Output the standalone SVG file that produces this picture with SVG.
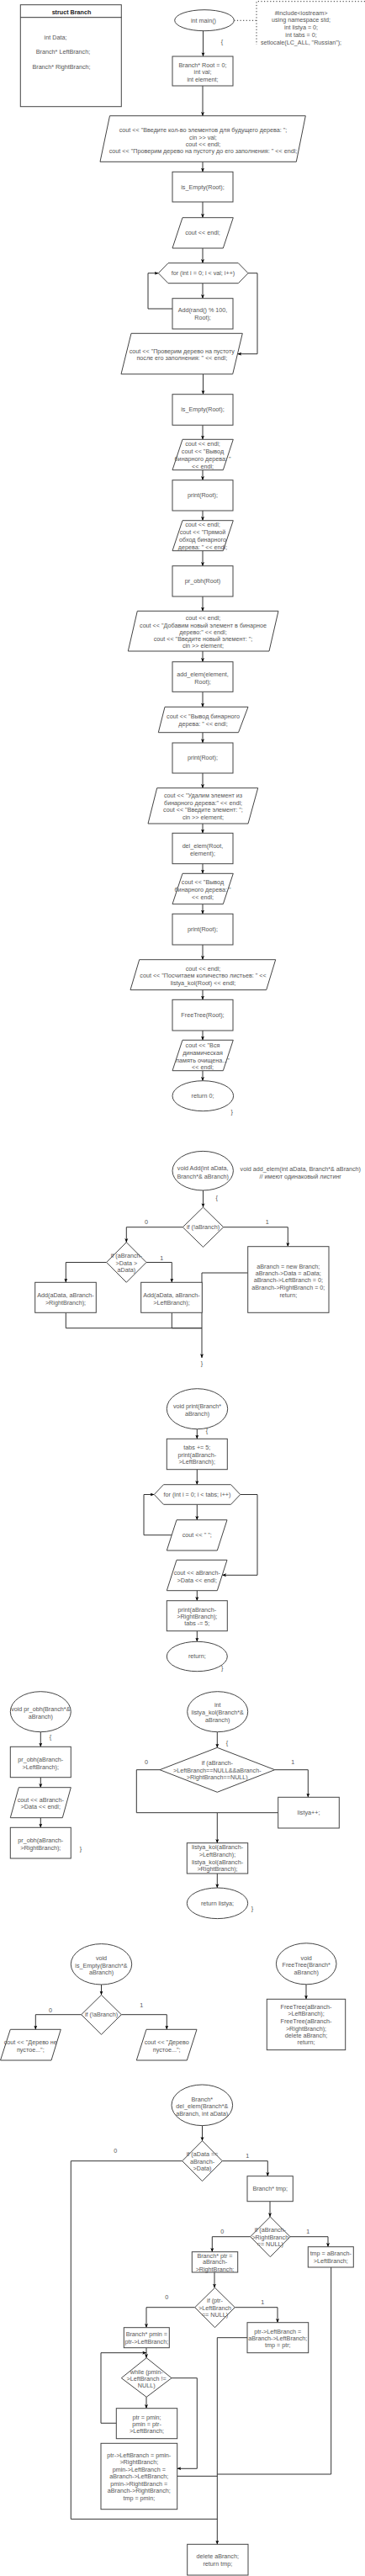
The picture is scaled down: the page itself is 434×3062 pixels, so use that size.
<svg xmlns="http://www.w3.org/2000/svg" width="434" height="3062" viewBox="0 0 434 3062">
<style>
.s{fill:#fff;stroke:#444;stroke-width:1}
.c{fill:none;stroke:#333;stroke-width:1}
.d{fill:none;stroke:#333;stroke-width:1;stroke-dasharray:1.2 2.4}
text{font-family:"Liberation Sans",Arial,sans-serif;font-size:7.2px;fill:#555;text-anchor:middle;dominant-baseline:central}
.b{font-weight:bold;fill:#222}
</style>
<defs>
<marker id="a" viewBox="0 0 8 8" refX="7.6" refY="4" markerWidth="5" markerHeight="5" markerUnits="userSpaceOnUse" orient="auto"><path d="M0,0.8 L8,4 L0,7.2 L2,4 z" fill="#000"/></marker>
</defs>
<rect width="434" height="3062" fill="#fff"/>

<g id="connectors">
<path class="c" d="M241.5,36.5V67" marker-end="url(#a)"/>
<path class="d" d="M278.3,24.3H305"/>
<path class="c" d="M241,102V137.7" marker-end="url(#a)"/>
<path class="c" d="M241,192.3V204.3" marker-end="url(#a)"/>
<path class="c" d="M241,240V258.7" marker-end="url(#a)"/>
<path class="c" d="M241,295V312.7" marker-end="url(#a)"/>
<path class="c" d="M241,336.7V354.7" marker-end="url(#a)"/>
<path class="c" d="M205,367H176V324.7H188.3" marker-end="url(#a)"/>
<path class="c" d="M295,324.7H306V420.7H282.5" marker-end="url(#a)"/>
<path class="c" d="M241.5,444.7V468.7" marker-end="url(#a)"/>
<path class="c" d="M241,505.3V522.3" marker-end="url(#a)"/>
<path class="c" d="M241,558.7V570.7" marker-end="url(#a)"/>
<path class="c" d="M241,607V618.7" marker-end="url(#a)"/>
<path class="c" d="M241,654.7V672.7" marker-end="url(#a)"/>
<path class="c" d="M241,709V726.3" marker-end="url(#a)"/>
<path class="c" d="M241,774V786.7" marker-end="url(#a)"/>
<path class="c" d="M241,822.3V840.3" marker-end="url(#a)"/>
<path class="c" d="M241,870.7V883" marker-end="url(#a)"/>
<path class="c" d="M241,919V936.7" marker-end="url(#a)"/>
<path class="c" d="M241,979V990.3" marker-end="url(#a)"/>
<path class="c" d="M241,1026.7V1038.3" marker-end="url(#a)"/>
<path class="c" d="M241,1074.7V1086.3" marker-end="url(#a)"/>
<path class="c" d="M241,1123V1140.7" marker-end="url(#a)"/>
<path class="c" d="M241,1176.7V1188.3" marker-end="url(#a)"/>
<path class="c" d="M241,1225V1236.3" marker-end="url(#a)"/>
<path class="c" d="M241,1272.7V1284.7" marker-end="url(#a)"/>

<path class="c" d="M241.5,1415V1435" marker-end="url(#a)"/>
<path class="c" d="M217.3,1458.7H150.3V1476.7" marker-end="url(#a)"/>
<path class="c" d="M265.7,1458.7H342.3V1481.7" marker-end="url(#a)"/>
<path class="c" d="M126.7,1500.5H78.3V1524.3" marker-end="url(#a)"/>
<path class="c" d="M174,1500.5H204.3V1524.3" marker-end="url(#a)"/>
<path class="c" d="M294.7,1513H240V1614" marker-end="url(#a)"/>
<path class="c" d="M78.3,1560.3V1578.7H240"/>
<path class="c" d="M204.3,1560.3V1578.7H240"/>

<path class="c" d="M234.3,1698.7V1710.3" marker-end="url(#a)"/>
<path class="c" d="M234.3,1746.7V1764.7" marker-end="url(#a)"/>
<path class="c" d="M234.3,1788.3V1806.7" marker-end="url(#a)"/>
<path class="c" d="M204.3,1824.7H171V1776.5H183.3" marker-end="url(#a)"/>
<path class="c" d="M285.7,1776.5H306V1872.3H264.3" marker-end="url(#a)"/>
<path class="c" d="M234.3,1890.7V1902.7" marker-end="url(#a)"/>
<path class="c" d="M234.3,1938.7V1951.3" marker-end="url(#a)"/>

<path class="c" d="M48.3,2058.7V2076.3" marker-end="url(#a)"/>
<path class="c" d="M48.3,2112.7V2124.7" marker-end="url(#a)"/>
<path class="c" d="M48.3,2160.7V2172.3" marker-end="url(#a)"/>

<path class="c" d="M258.3,2058.7V2077.3" marker-end="url(#a)"/>
<path class="c" d="M326.7,2103.7H366.3V2136.3" marker-end="url(#a)"/>
<path class="c" d="M190,2103.7H162.3V2154.7H258.3"/>
<path class="c" d="M330.7,2154.7H258.3V2190.7" marker-end="url(#a)"/>
<path class="c" d="M258.3,2227V2244" marker-end="url(#a)"/>

<path class="c" d="M120.5,2359V2371.3" marker-end="url(#a)"/>
<path class="c" d="M96.7,2394.7H42.3V2412.3" marker-end="url(#a)"/>
<path class="c" d="M144.3,2394.7H198.3V2412.3" marker-end="url(#a)"/>
<path class="c" d="M364,2359V2376.3" marker-end="url(#a)"/>

<path class="c" d="M240.5,2526.7V2544.7" marker-end="url(#a)"/>
<path class="c" d="M216.7,2568.7H84.3V2994.3H258.3"/>
<path class="c" d="M264.3,2568.7H318.3V2586.7" marker-end="url(#a)"/>
<path class="c" d="M321,2616.7V2635" marker-end="url(#a)"/>
<path class="c" d="M345,2658.7H390V2670.7" marker-end="url(#a)"/>
<path class="c" d="M297.7,2658.7H252.3V2676.7" marker-end="url(#a)"/>
<path class="c" d="M393.7,2695V2941H258.3"/>
<path class="c" d="M255,2701V2719.3" marker-end="url(#a)"/>
<path class="c" d="M279.3,2742.7H330V2760.7" marker-end="url(#a)"/>
<path class="c" d="M231.7,2742.7H174V2766.7" marker-end="url(#a)"/>
<path class="c" d="M294,2778.7H258.3V3024.3" marker-end="url(#a)"/>
<path class="c" d="M174,2790.7V2802.7" marker-end="url(#a)"/>
<path class="c" d="M174,2849.3V2862.7" marker-end="url(#a)"/>
<path class="c" d="M138.3,2880.3H120V2796.7H174" marker-end="url(#a)"/>
<path class="c" d="M204,2826.7H234.3V2934.3H210.7" marker-end="url(#a)"/>
<path class="c" d="M210.7,2943.3H258.3"/>
</g>

<g id="struct">
<rect class="s" x="24.3" y="5.7" width="120" height="121"/>
<path class="c" d="M24.3,20.7H144.3"/>
<text class="b" x="85" y="14">struct Branch</text>
<text x="66" y="44">int Data;</text>
<text x="75" y="61">Branch* LeftBranch;</text>
<text x="73" y="79">Branch* RightBranch;</text>
</g>

<g id="main">
<ellipse class="s" cx="243" cy="24.2" rx="35.3" ry="12.5"/>
<text x="242" y="24.3">int main()</text>
<text x="264" y="49">{</text>
</g>

<g id="globals">
<path class="d" d="M434,1.7H305V53"/>
<text x="358"><tspan x="358" y="14.7">#include&lt;iostream&gt;</tspan><tspan x="358" y="23.3">using namespace std;</tspan><tspan x="358" y="32.3">int listya = 0;</tspan><tspan x="358" y="40.7">int tabs = 0;</tspan><tspan x="358" y="49.7">setlocale(LC_ALL, "Russian");</tspan></text>
</g>

<g id="n1"><rect class="s" x="205" y="67" width="72" height="35"/>
<text><tspan x="241" y="77">Branch* Root = 0;</tspan><tspan x="241" y="85.3">int val;</tspan><tspan x="241" y="94">int element;</tspan></text></g>

<g id="n2"><polygon class="s" points="130.5,137.7 363.3,137.7 352.3,192.3 119,192.3"/>
<text><tspan x="241.5" y="154">cout &lt;&lt; "Введите кол-во элементов для будущего дерева: ";</tspan><tspan x="241.5" y="162.7">cin &gt;&gt; val;</tspan><tspan x="241.5" y="171">cout &lt;&lt; endl;</tspan><tspan x="241.5" y="179.3">cout &lt;&lt; "Проверим дерево на пустоту до его заполнения: " &lt;&lt; endl;</tspan></text></g>

<g id="n3"><rect class="s" x="205" y="204.3" width="72" height="35.7"/><text x="241" y="222.3">is_Empty(Root);</text></g>

<g id="n4"><polygon class="s" points="217,258.7 277.3,258.7 265.3,295 205,295"/><text x="241" y="276.7">cout &lt;&lt; endl;</text></g>

<g id="n5"><polygon class="s" points="188.3,324.7 200,312.7 283.3,312.7 295,324.7 283.3,336.7 200,336.7"/><text x="241.5" y="324.7">for (int i = 0; i &lt; val; i++)</text></g>

<g id="n6"><rect class="s" x="205" y="354.7" width="72" height="36.3"/>
<text><tspan x="241" y="368.3">Add(rand() % 100,</tspan><tspan x="241" y="377.3">Root);</tspan></text></g>

<g id="n7"><polygon class="s" points="156,396.3 288.3,396.3 276.7,444.7 144,444.7"/>
<text><tspan x="216.3" y="417">cout &lt;&lt; "Проверим дерево на пустоту</tspan><tspan x="216.3" y="425.3">после его заполнения: " &lt;&lt; endl;</tspan></text></g>

<g id="n8"><rect class="s" x="205" y="468.7" width="72" height="36.6"/><text x="241" y="486.7">is_Empty(Root);</text></g>

<g id="n9"><polygon class="s" points="217,522.3 277.3,522.3 265.3,558.7 205,558.7"/>
<text><tspan x="241" y="527.3">cout &lt;&lt; endl;</tspan><tspan x="241" y="536.3">cout &lt;&lt; "Вывод</tspan><tspan x="241" y="545.3">бинарного дерева: "</tspan><tspan x="241" y="553.7">&lt;&lt; endl;</tspan></text></g>

<g id="n10"><rect class="s" x="205" y="570.7" width="72" height="36.3"/><text x="241" y="588.7">print(Root);</text></g>

<g id="n11"><polygon class="s" points="217,618.7 277.3,618.7 265.3,654.7 205,654.7"/>
<text><tspan x="241" y="623.3">cout &lt;&lt; endl;</tspan><tspan x="241" y="632.3">cout &lt;&lt; "Прямой</tspan><tspan x="241" y="641.3">обход бинарного</tspan><tspan x="241" y="649.7">дерева: " &lt;&lt; endl;</tspan></text></g>

<g id="n12"><rect class="s" x="205" y="672.7" width="72" height="36.3"/><text x="241" y="690.7">pr_obh(Root)</text></g>

<g id="n13"><polygon class="s" points="163.3,726.3 331,726.3 320,774 152.3,774"/>
<text><tspan x="241.5" y="733.7">cout &lt;&lt; endl;</tspan><tspan x="241.5" y="742.7">cout &lt;&lt; "Добавим новый элемент в бинарное</tspan><tspan x="241.5" y="750.7">дерево:" &lt;&lt; endl;</tspan><tspan x="241.5" y="759.3">cout &lt;&lt; "Введите новый элемент: ";</tspan><tspan x="241.5" y="767.3">cin &gt;&gt; element;</tspan></text></g>

<g id="n14"><rect class="s" x="205" y="786.7" width="72" height="35.6"/>
<text><tspan x="241" y="800.7">add_elem(element,</tspan><tspan x="241" y="809.7">Root);</tspan></text></g>

<g id="n15"><polygon class="s" points="196,840.3 295,840.3 283.5,870.7 188.3,870.7"/>
<text><tspan x="241.5" y="851.3">cout &lt;&lt; "Вывод бинарного</tspan><tspan x="241.5" y="860.3">дерева: " &lt;&lt; endl;</tspan></text></g>

<g id="n16"><rect class="s" x="205" y="883" width="72" height="36"/><text x="241" y="900.7">print(Root);</text></g>

<g id="n17"><polygon class="s" points="186.7,936.7 306.7,936.7 295,979 176,979"/>
<text><tspan x="241.5" y="944.7">cout &lt;&lt; "Удалим элемент из</tspan><tspan x="241.5" y="953.7">бинарного дерева:" &lt;&lt; endl;</tspan><tspan x="241.5" y="962.3">cout &lt;&lt; "Введите элемент: ";</tspan><tspan x="241.5" y="970.7">cin &gt;&gt; element;</tspan></text></g>

<g id="n18"><rect class="s" x="205" y="990.3" width="72" height="36.4"/>
<text><tspan x="241" y="1004.7">del_elem(Root,</tspan><tspan x="241" y="1013.7">element);</tspan></text></g>

<g id="n19"><polygon class="s" points="217,1038.3 277.3,1038.3 265.3,1074.7 205,1074.7"/>
<text><tspan x="241" y="1048.3">cout &lt;&lt; "Вывод</tspan><tspan x="241" y="1057">бинарного дерева: "</tspan><tspan x="241" y="1065.7">&lt;&lt; endl;</tspan></text></g>

<g id="n20"><rect class="s" x="205" y="1086.3" width="72" height="36.7"/><text x="241" y="1104.7">print(Root);</text></g>

<g id="n21"><polygon class="s" points="165.7,1140.7 327.7,1140.7 316.7,1176.7 155,1176.7"/>
<text><tspan x="241.5" y="1150.7">cout &lt;&lt; endl;</tspan><tspan x="241.5" y="1159">cout &lt;&lt; "Посчитаем количество листьев: " &lt;&lt;</tspan><tspan x="241.5" y="1167.7">listya_kol(Root) &lt;&lt; endl;</tspan></text></g>

<g id="n22"><rect class="s" x="205" y="1188.3" width="72" height="36.7"/><text x="241" y="1206.7">FreeTree(Root);</text></g>

<g id="n23"><polygon class="s" points="217,1236.3 277.3,1236.3 265.3,1272.7 205,1272.7"/>
<text><tspan x="241" y="1241.7">cout &lt;&lt; "Вся</tspan><tspan x="241" y="1251">динамическая</tspan><tspan x="241" y="1260">память очищена..."</tspan><tspan x="241" y="1267.7">&lt;&lt; endl;</tspan></text></g>

<g id="n24"><ellipse class="s" cx="241.3" cy="1302.7" rx="36.3" ry="18"/><text x="241" y="1302.7">return 0;</text><text x="275.7" y="1321.7">}</text></g>

<g id="add"><ellipse class="s" cx="241.2" cy="1391.7" rx="36.2" ry="23.3"/>
<text><tspan x="241.2" y="1388.3">void Add(int aData,</tspan><tspan x="241.2" y="1397.7">Branch*&amp; aBranch)</tspan></text>
<text><tspan x="357.3" y="1389">void add_elem(int aData, Branch*&amp; aBranch)</tspan><tspan x="357.3" y="1397.7">// имеют одинаковый листинг</tspan></text>
<text x="257.7" y="1423.7">{</text></g>

<g id="add_if1"><polygon class="s" points="241.5,1435 265.7,1458.7 241.5,1482.3 217.3,1458.7"/><text x="241.5" y="1458.7">if (!aBranch)</text>
<text x="174" y="1452.7">0</text><text x="317.7" y="1452.7">1</text></g>

<g id="add_if2"><polygon class="s" points="150.3,1476.7 174,1500.5 150.3,1524.3 126.7,1500.5"/>
<text><tspan x="150.3" y="1492.3">if (aBranch-</tspan><tspan x="150.3" y="1500.7">&gt;Data &gt;</tspan><tspan x="150.3" y="1509.3">aData)</tspan></text>
<text x="192.3" y="1495">1</text></g>

<g id="add_r"><rect class="s" x="41.7" y="1524.3" width="72.6" height="36"/>
<text><tspan x="78" y="1538.7">Add(aData, aBranch-</tspan><tspan x="78" y="1547.7">&gt;RightBranch);</tspan></text></g>

<g id="add_l"><rect class="s" x="167.7" y="1524.3" width="72.6" height="36"/>
<text><tspan x="204" y="1538.7">Add(aData, aBranch-</tspan><tspan x="204" y="1547.7">&gt;LeftBranch);</tspan></text></g>

<g id="add_new"><rect class="s" x="294.7" y="1481.7" width="96.3" height="78.6"/>
<text><tspan x="342.8" y="1505">aBranch = new Branch;</tspan><tspan x="342.8" y="1513">aBranch-&gt;Data = aData;</tspan><tspan x="342.8" y="1521.3">aBranch-&gt;LeftBranch = 0;</tspan><tspan x="342.8" y="1530">aBranch-&gt;RightBranch = 0;</tspan><tspan x="342.8" y="1538.7">return;</tspan></text></g>
<text x="240" y="1620.3">}</text>

<g id="print"><ellipse class="s" cx="234.5" cy="1674.7" rx="36.2" ry="24"/>
<text><tspan x="234.5" y="1670.7">void print(Branch*</tspan><tspan x="234.5" y="1679.7">aBranch)</tspan></text><text x="246" y="1700">{</text></g>

<g id="print1"><rect class="s" x="198.3" y="1710.3" width="72" height="36.4"/>
<text><tspan x="234.3" y="1720.3">tabs += 5;</tspan><tspan x="234.3" y="1728.7">print(aBranch-</tspan><tspan x="234.3" y="1737.3">&gt;LeftBranch);</tspan></text></g>

<g id="print_for"><polygon class="s" points="183.3,1776.5 194.5,1764.7 274.5,1764.7 285.7,1776.5 274.5,1788.3 194.5,1788.3"/><text x="234.5" y="1776.5">for (int i = 0; i &lt; tabs; i++)</text></g>

<g id="print_sp"><polygon class="s" points="210,1806.7 270,1806.7 258.3,1843 198.3,1843"/><text x="234.3" y="1824.7">cout &lt;&lt; " ";</text></g>

<g id="print_out"><polygon class="s" points="210,1854.3 270,1854.3 258.3,1890.7 198.3,1890.7"/>
<text><tspan x="234.3" y="1869">cout &lt;&lt; aBranch-</tspan><tspan x="234.3" y="1877.7">&gt;Data &lt;&lt; endl;</tspan></text></g>

<g id="print2"><rect class="s" x="198.3" y="1902.7" width="72" height="36"/>
<text><tspan x="234.3" y="1912.7">print(aBranch-</tspan><tspan x="234.3" y="1921">&gt;RightBranch);</tspan><tspan x="234.3" y="1929.3">tabs -= 5;</tspan></text></g>

<g id="print_ret"><ellipse class="s" cx="234.3" cy="1969" rx="36" ry="17.7"/><text x="234.3" y="1968.7">return;</text><text x="264.3" y="1982">}</text></g>

<g id="probh"><ellipse class="s" cx="48.3" cy="2034.7" rx="36" ry="24"/>
<text><tspan x="48.3" y="2030.7">void pr_obh(Branch*&amp;</tspan><tspan x="48.3" y="2039.7">aBranch)</tspan></text><text x="60" y="2064.7">{</text></g>

<g id="probh1"><rect class="s" x="12.3" y="2076.3" width="72" height="36.4"/>
<text><tspan x="48.3" y="2090.7">pr_obh(aBranch-</tspan><tspan x="48.3" y="2099.7">&gt;LeftBranch);</tspan></text></g>

<g id="probh2"><polygon class="s" points="22.3,2124.7 84.3,2124.7 74.3,2160.7 12.3,2160.7"/>
<text><tspan x="48.3" y="2138.7">cout &lt;&lt; aBranch-</tspan><tspan x="48.3" y="2147.3">&gt;Data &lt;&lt; endl;</tspan></text></g>

<g id="probh3"><rect class="s" x="12.3" y="2172.3" width="72" height="36.7"/>
<text><tspan x="48.3" y="2186.7">pr_obh(aBranch-</tspan><tspan x="48.3" y="2195.7">&gt;RightBranch);</tspan></text><text x="96" y="2197">}</text></g>

<g id="lk"><ellipse class="s" cx="258.7" cy="2034.7" rx="36" ry="24"/>
<text><tspan x="258.7" y="2026.3">int</tspan><tspan x="258.7" y="2035">listya_kol(Branch*&amp;</tspan><tspan x="258.7" y="2043.7">aBranch)</tspan></text><text x="270" y="2071.3">{</text></g>

<g id="lk_if"><polygon class="s" points="258.3,2077.3 326.7,2103.7 258.3,2130.3 190,2103.7"/>
<text><tspan x="258.3" y="2095.3">if (aBranch-</tspan><tspan x="258.3" y="2103.7">&gt;LeftBranch==NULL&amp;&amp;aBranch-</tspan><tspan x="258.3" y="2112.3">&gt;RightBranch==NULL)</tspan></text>
<text x="174" y="2094.7">0</text><text x="348.3" y="2094.7">1</text></g>

<g id="lk_inc"><rect class="s" x="330.7" y="2136.3" width="72.6" height="36.7"/><text x="367" y="2154.7">listya++;</text></g>

<g id="lk_rec"><rect class="s" x="222.3" y="2190.7" width="72.4" height="36.3"/>
<text><tspan x="258.5" y="2195.3">listya_kol(aBranch-</tspan><tspan x="258.5" y="2204.3">&gt;LeftBranch);</tspan><tspan x="258.5" y="2213.3">listya_kol(aBranch-</tspan><tspan x="258.5" y="2221.3">&gt;RightBranch);</tspan></text></g>

<g id="lk_ret"><ellipse class="s" cx="258.5" cy="2262.3" rx="36.2" ry="18.3"/><text x="258.5" y="2262.3">return listya;</text><text x="300" y="2268.7">}</text></g>

<g id="ie"><ellipse class="s" cx="120.5" cy="2334.8" rx="36.2" ry="24.2"/>
<text><tspan x="120.5" y="2326.7">void</tspan><tspan x="120.5" y="2335.7">is_Empty(Branch*&amp;</tspan><tspan x="120.5" y="2344">aBranch)</tspan></text></g>

<g id="ie_if"><polygon class="s" points="120.5,2371.3 144.3,2394.7 120.5,2418.3 96.7,2394.7"/><text x="120.5" y="2394.7">if (!aBranch)</text>
<text x="60" y="2389">0</text><text x="168.3" y="2383">1</text></g>

<g id="ie_no"><polygon class="s" points="12.3,2412.3 72.3,2412.3 61,2449 0.5,2449"/>
<text><tspan x="36.3" y="2426.7">cout &lt;&lt; "Дерево не</tspan><tspan x="36.3" y="2435.7">пустое...";</tspan></text></g>

<g id="ie_yes"><polygon class="s" points="174,2412.3 234,2412.3 222.3,2449 162.3,2449"/>
<text><tspan x="198.2" y="2426.7">cout &lt;&lt; "Дерево</tspan><tspan x="198.2" y="2435.7">пустое...";</tspan></text></g>

<g id="ft"><ellipse class="s" cx="364.2" cy="2334.3" rx="35.8" ry="24.5"/>
<text><tspan x="364.2" y="2326.7">void</tspan><tspan x="364.2" y="2335.3">FreeTree(Branch*</tspan><tspan x="364.2" y="2344">aBranch)</tspan></text></g>

<g id="ft1"><rect class="s" x="317.3" y="2376.3" width="93.4" height="60.4"/>
<text><tspan x="364" y="2385">FreeTree(aBranch-</tspan><tspan x="364" y="2393.3">&gt;LeftBranch);</tspan><tspan x="364" y="2402">FreeTree(aBranch-</tspan><tspan x="364" y="2410.7">&gt;RightBranch);</tspan><tspan x="364" y="2419">delete aBranch;</tspan><tspan x="364" y="2427.3">return;</tspan></text></g>

<g id="de"><ellipse class="s" cx="240.3" cy="2502.3" rx="36.3" ry="24.3"/>
<text><tspan x="240.3" y="2494.7">Branch*</tspan><tspan x="240.3" y="2503.3">del_elem(Branch*&amp;</tspan><tspan x="240.3" y="2512">aBranch, int aData)</tspan></text></g>

<g id="de_if"><polygon class="s" points="240.5,2544.7 264.3,2568.7 240.5,2592.7 216.7,2568.7"/>
<text><tspan x="240.5" y="2560">if (aData ==</tspan><tspan x="240.5" y="2568.7">aBranch-</tspan><tspan x="240.5" y="2577.3">&gt;Data)</tspan></text>
<text x="137.3" y="2556.7">0</text><text x="294.3" y="2562.7">1</text></g>

<g id="de_tmp"><rect class="s" x="294" y="2586.7" width="54.3" height="30"/><text x="321.2" y="2601.7">Branch* tmp;</text></g>

<g id="de_if2"><polygon class="s" points="321.3,2635 345,2658.7 321.3,2682.7 297.7,2658.7"/>
<text><tspan x="321.3" y="2650.3">if (aBranch-</tspan><tspan x="321.3" y="2658.7">&gt;RightBranch</tspan><tspan x="321.3" y="2667.3">== NULL)</tspan></text>
<text x="264.3" y="2652.7">0</text><text x="366.3" y="2652.7">1</text></g>

<g id="de_t1"><rect class="s" x="366.3" y="2670.7" width="54" height="24.3"/>
<text><tspan x="393.3" y="2678.3">tmp = aBranch-</tspan><tspan x="393.3" y="2687.3">&gt;LeftBranch;</tspan></text></g>

<g id="de_ptr"><rect class="s" x="228.3" y="2676.7" width="54.4" height="24.3"/>
<text><tspan x="255.5" y="2680.7">Branch* ptr =</tspan><tspan x="255.5" y="2688.3">aBranch-</tspan><tspan x="255.5" y="2696.7">&gt;RightBranch;</tspan></text></g>

<g id="de_if3"><polygon class="s" points="255.5,2719.3 279.3,2742.7 255.5,2766.7 231.7,2742.7"/>
<text><tspan x="255.5" y="2734.3">if (ptr-</tspan><tspan x="255.5" y="2742.7">&gt;LeftBranch</tspan><tspan x="255.5" y="2751.3">== NULL)</tspan></text>
<text x="198.3" y="2730.7">0</text><text x="312.3" y="2736.7">1</text></g>

<g id="de_p1"><rect class="s" x="294" y="2760.7" width="72.7" height="36"/>
<text><tspan x="330.3" y="2770.7">ptr-&gt;LeftBranch =</tspan><tspan x="330.3" y="2778.7">aBranch-&gt;LeftBranch;</tspan><tspan x="330.3" y="2787.3">tmp = ptr;</tspan></text></g>

<g id="de_pmin"><rect class="s" x="147.3" y="2766.7" width="54" height="24"/>
<text><tspan x="174.3" y="2774.3">Branch* pmin =</tspan><tspan x="174.3" y="2783.3">ptr-&gt;LeftBranch;</tspan></text></g>

<g id="de_wh"><polygon class="s" points="174.2,2802.7 204,2826.7 174.2,2849.3 144.3,2826.7"/>
<text><tspan x="174.2" y="2818.7">while (pmin-</tspan><tspan x="174.2" y="2826.7">&gt;LeftBranch !=</tspan><tspan x="174.2" y="2835.3">NULL)</tspan></text></g>

<g id="de_step"><rect class="s" x="138.3" y="2862.7" width="72.4" height="36"/>
<text><tspan x="174.5" y="2872.7">ptr = pmin;</tspan><tspan x="174.5" y="2881">pmin = ptr-</tspan><tspan x="174.5" y="2889.3">&gt;LeftBranch;</tspan></text></g>

<g id="de_fix"><rect class="s" x="120" y="2904.3" width="90.7" height="78.4"/>
<text><tspan x="165.3" y="2917.7">ptr-&gt;LeftBranch = pmin-</tspan><tspan x="165.3" y="2926.3">&gt;RightBranch;</tspan><tspan x="165.3" y="2935">pmin-&gt;LeftBranch =</tspan><tspan x="165.3" y="2943.3">aBranch-&gt;LeftBranch;</tspan><tspan x="165.3" y="2952">pmin-&gt;RightBranch =</tspan><tspan x="165.3" y="2960.3">aBranch-&gt;RightBranch;</tspan><tspan x="165.3" y="2969.3">tmp = pmin;</tspan></text></g>

<g id="de_del"><rect class="s" x="222.7" y="3024.3" width="72.3" height="36.7"/>
<text><tspan x="258.8" y="3038.3">delete aBranch;</tspan><tspan x="258.8" y="3047">return tmp;</tspan></text></g>
</svg>
